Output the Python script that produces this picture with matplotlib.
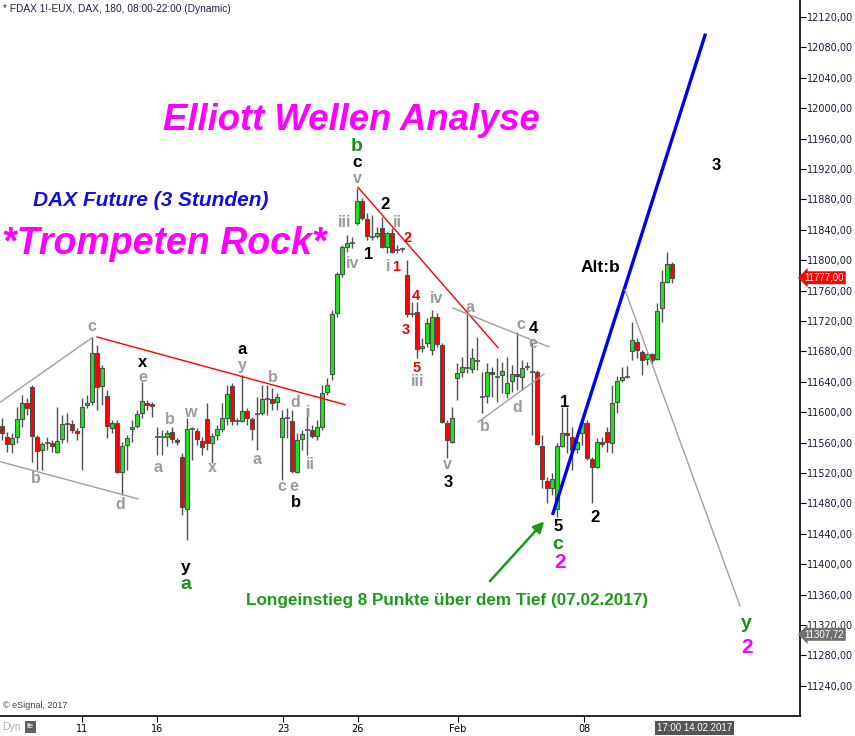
import numpy as np
import matplotlib
matplotlib.use("Agg")
import matplotlib.pyplot as plt

# DAX future, 3h bars (OHLC)
opens = [11582, 11567, 11558, 11567, 11591, 11612, 11633, 11567, 11550, 11560,
         11560, 11548, 11565, 11585, 11585, 11575, 11581, 11609, 11613, 11678,
         11635, 11621, 11579, 11586, 11521, 11557, 11578, 11582, 11599, 11612,
         11611, 11567, 11567, 11567, 11574, 11563, 11541, 11473, 11578, 11575,
         11562, 11591, 11560, 11570, 11578, 11592, 11635, 11588, 11588, 11602,
         11591, 11598, 11599, 11617, 11617, 11613, 11567, 11592, 11588, 11521,
         11565, 11577, 11577, 11569, 11581, 11627, 11650, 11731, 11782, 11817,
         11823, 11849, 11878, 11854, 11831, 11832, 11842, 11817, 11836, 11813,
         11815, 11781, 11729, 11732, 11685, 11691, 11682, 11725, 11688, 11586,
         11561, 11645, 11653, 11658, 11657, 11667, 11620, 11621, 11653, 11646,
         11649, 11625, 11641, 11650, 11646, 11660, 11653, 11653, 11556, 11510,
         11500, 11473, 11556, 11573, 11567, 11552, 11573, 11586, 11538, 11528,
         11561, 11574, 11560, 11613, 11642, 11646, 11681, 11692, 11679, 11670,
         11677, 11670, 11737, 11771, 11795]
highs = [11592, 11574, 11573, 11607, 11623, 11619, 11636, 11570, 11561, 11567,
         11563, 11607, 11596, 11599, 11590, 11579, 11619, 11623, 11699, 11688,
         11662, 11629, 11590, 11590, 11561, 11570, 11590, 11603, 11640, 11616,
         11613, 11581, 11577, 11577, 11581, 11566, 11546, 11592, 11581, 11579,
         11567, 11612, 11573, 11583, 11612, 11636, 11638, 11592, 11649, 11606,
         11594, 11620, 11636, 11636, 11632, 11625, 11603, 11606, 11603, 11573,
         11577, 11606, 11583, 11590, 11636, 11645, 11734, 11785, 11820, 11833,
         11831, 11895, 11882, 11862, 11859, 11844, 11857, 11837, 11842, 11820,
         11817, 11800, 11745, 11745, 11698, 11724, 11734, 11731, 11691, 11590,
         11607, 11665, 11673, 11731, 11685, 11699, 11653, 11665, 11660, 11671,
         11666, 11673, 11662, 11706, 11669, 11666, 11691, 11656, 11570, 11515,
         11520, 11560, 11607, 11607, 11581, 11567, 11592, 11590, 11541, 11566,
         11567, 11581, 11636, 11648, 11660, 11661, 11719, 11698, 11682, 11678,
         11678, 11744, 11787, 11811, 11798]
lows = [11563, 11548, 11546, 11560, 11581, 11596, 11535, 11524, 11524, 11550,
        11548, 11546, 11560, 11561, 11573, 11563, 11524, 11606, 11609, 11603,
        11609, 11566, 11573, 11520, 11491, 11524, 11561, 11579, 11592, 11603,
        11594, 11544, 11544, 11556, 11560, 11557, 11465, 11432, 11537, 11557,
        11544, 11550, 11533, 11563, 11574, 11583, 11583, 11583, 11587, 11583,
        11563, 11550, 11596, 11596, 11603, 11603, 11511, 11566, 11520, 11520,
        11550, 11544, 11566, 11563, 11577, 11623, 11642, 11725, 11778, 11811,
        11816, 11846, 11853, 11827, 11827, 11829, 11816, 11810, 11810, 11810,
        11811, 11725, 11725, 11671, 11679, 11686, 11675, 11686, 11586, 11540,
        11560, 11616, 11646, 11652, 11652, 11656, 11599, 11612, 11620, 11613,
        11625, 11619, 11627, 11629, 11629, 11656, 11570, 11557, 11500, 11481,
        11491, 11462, 11554, 11546, 11524, 11546, 11557, 11537, 11481, 11527,
        11554, 11548, 11546, 11599, 11640, 11645, 11669, 11671, 11649, 11662,
        11665, 11669, 11719, 11770, 11770]
closes = [11573, 11558, 11566, 11591, 11612, 11606, 11569, 11549, 11558, 11560,
          11556, 11562, 11585, 11585, 11577, 11573, 11607, 11612, 11678, 11633,
          11658, 11582, 11586, 11521, 11556, 11566, 11581, 11598, 11615, 11609,
          11608, 11567, 11567, 11573, 11565, 11561, 11475, 11578, 11578, 11565,
          11554, 11560, 11569, 11578, 11592, 11624, 11588, 11588, 11602, 11592,
          11578, 11598, 11617, 11617, 11612, 11620, 11592, 11592, 11523, 11563,
          11571, 11577, 11569, 11581, 11625, 11636, 11729, 11782, 11817, 11823,
          11823, 11878, 11856, 11832, 11831, 11836, 11817, 11836, 11811, 11813,
          11815, 11729, 11729, 11683, 11687, 11717, 11725, 11690, 11587, 11563,
          11592, 11652, 11660, 11658, 11671, 11667, 11620, 11653, 11650, 11646,
          11654, 11638, 11650, 11648, 11658, 11660, 11653, 11558, 11512, 11500,
          11512, 11556, 11573, 11570, 11550, 11561, 11586, 11540, 11528, 11561,
          11558, 11561, 11612, 11641, 11646, 11646, 11695, 11682, 11669, 11677,
          11669, 11733, 11771, 11795, 11777]

day_ticks = [16, 31, 56.2, 71.1, 91.2, 116.4]
day_labels = ["11", "16", "23", "26", "Feb", "08"]
price_ticks = np.arange(11240, 12121, 40)
last_price = 11777.00
target_price = 11307.72

# Elliott wave counts: (text, bar, price)
black_waves = [("x", 28.2, 11665), ("a", 48, 11682), ("b", 58.8, 11481),
               ("2", 76.6, 11873), ("1", 73.4, 11807), ("3", 89.2, 11508),
               ("4", 106.2, 11710), ("1", 112.6, 11613), ("2", 118.6, 11462),
               ("5", 111.2, 11449), ("3", 142.8, 11925)]
big_black = [("c", 71, 11929), ("y", 36.8, 11396)]
green_waves = [("b", 71, 11950), ("a", 36.8, 11373), ("c", 111.2, 11426),
               ("y", 148.8, 11322)]
magenta_waves = [("2", 111.6, 11402), ("2", 149, 11291)]
gray_waves = [("c", 18, 11713), ("e", 28.2, 11646), ("b", 6.8, 11513),
              ("d", 23.6, 11478), ("a", 31.2, 11527), ("b", 33.6, 11590),
              ("w", 37.6, 11600), ("x", 42, 11527), ("y", 48, 11662),
              ("a", 51, 11538), ("b", 54.2, 11646), ("d", 58.6, 11613),
              ("c", 56, 11502), ("e", 58.4, 11502), ("i", 61.2, 11599),
              ("ii", 61.6, 11531), ("iii", 68.6, 11849), ("iv", 70.2, 11796),
              ("v", 71, 11908), ("ii", 79, 11849), ("i", 77.2, 11792),
              ("iv", 87, 11750), ("iii", 83.2, 11640), ("v", 89, 11531),
              ("a", 93.6, 11738), ("c", 103.8, 11715), ("e", 106.2, 11691),
              ("b", 96.6, 11581), ("d", 103, 11606)]
red_waves = [("2", 81.2, 11829), ("1", 78.8, 11791), ("4", 82.8, 11753),
             ("3", 80.8, 11708), ("5", 83, 11658)]

# trend lines: ((bar, price), (bar, price), colour, width)
trend_lines = [((-0.4, 11613), (18, 11698), "#a0a0a0", 1.0),
               ((-0.4, 11535), (27.2, 11486), "#a0a0a0", 1.0),
               ((19, 11699), (68.6, 11610), "#ff0000", 1.0),
               ((71.2, 11896), (99.2, 11685), "#ff0000", 1.0),
               ((90.2, 11737), (109.4, 11686), "#a0a0a0", 1.0),
               ((95.2, 11587), (108.4, 11650), "#a0a0a0", 1.0),
               ((110.2, 11467), (140.6, 12096), "#0000ee", 2.4),
               ((124.6, 11761), (147.6, 11345), "#a0a0a0", 1.0)]

W, H = 855, 736
fig = plt.figure(figsize=(W / 100, H / 100), dpi=100)
ax = fig.add_axes([0, 20 / H, 800 / W, 716 / H])
plt.rcParams['font.family'] = ['Liberation Sans', 'DejaVu Sans']

up_col, dn_col, edge = "#1ee61e", "#ff0000", "#505050"
idx = np.arange(len(opens))
o = np.array(opens); c = np.array(closes)
ax.vlines(idx, lows, highs, color=edge, lw=1, zorder=2)
for i in idx:
    if o[i] == c[i]:
        ax.hlines(o[i], i - 0.5, i + 0.5, color=edge, lw=1.2, zorder=3)
    else:
        col = up_col if c[i] > o[i] else dn_col
        ax.bar(i, abs(c[i] - o[i]), bottom=min(o[i], c[i]), width=0.85,
               color=col, edgecolor=edge, linewidth=0.8, zorder=3)

for p1, p2, col, lw in trend_lines:
    ax.plot([p1[0], p2[0]], [p1[1], p2[1]], color=col, lw=lw, zorder=4)

ax.annotate("", xy=(108.8, 11459), xytext=(97.2, 11375),
            arrowprops=dict(arrowstyle="-|>", color="#1a9a1a", lw=1.8,
                            mutation_scale=16), zorder=5)

def put(lst, col, size):
    for t, x, y in lst:
        ax.text(x, y, t, color=col, fontsize=size, fontweight="bold",
                ha="center", va="center", zorder=6)

put(black_waves, "black", 12)
put(big_black, "black", 12.5)
put(green_waves, "#1a8f1a", 14)
put(magenta_waves, "#ff00ff", 15)
put(gray_waves, "#9a9a9a", 11.5)
put(red_waves, "#ee0000", 10.5)
ax.text(119.6, 11790, "Alt:b", color="black", fontsize=12.5,
        fontweight="bold", ha="center", va="center")

def ftext(x, y, s, **kw):
    fig.text(x / W, 1 - y / H, s, **kw)

ftext(351, 120, "Elliott Wellen Analyse", color="#ff00ff", fontsize=26.3,
      fontweight="bold", fontstyle="italic", ha="center", va="center")
ftext(151, 201, "DAX Future (3 Stunden)", color="#1010dd", fontsize=15,
      fontweight="bold", fontstyle="italic", ha="center", va="center")
ftext(164, 244, "*Trompeten Rock*", color="#ff00ff", fontsize=27,
      fontweight="bold", fontstyle="italic", ha="center", va="center")
ftext(447, 600, "Longeinstieg 8 Punkte über dem Tief (07.02.2017)",
      color="#1e9a1e", fontsize=12.3, fontweight="bold", ha="center", va="center")
ftext(3, 9, "* FDAX 1!-EUX, DAX, 180, 08:00-22:00 (Dynamic)", color="#202040",
      fontsize=7.3, ha="left", va="center")
ftext(3, 706, "© eSignal, 2017", color="#404040", fontsize=6.5,
      ha="left", va="center")
ftext(2, 727, "Dyn", color="#b0b0b0", fontsize=7.5, ha="left", va="center")
ftext(27, 727, "fe", color="white", fontsize=6, ha="left", va="center",
      bbox=dict(boxstyle="square,pad=0.25", fc="#606060", ec="none"))

ax.set_xlim(-0.4, 159.6)
ax.set_ylim(11200.3, 12142.4)
for s in ["top", "left"]:
    ax.spines[s].set_visible(False)
for s in ["right", "bottom"]:
    ax.spines[s].set_color("black")
    ax.spines[s].set_linewidth(1.2)
ax.yaxis.tick_right()
ax.set_yticks(price_ticks)
ax.set_yticklabels([f"{v:.2f}".replace(".", ",") for v in price_ticks])
ax.tick_params(axis="y", direction="out", length=4, labelsize=7,
               labelcolor="#1a1a40", pad=1)
ax.set_xticks(day_ticks)
ax.set_xticklabels(day_labels)
ax.tick_params(axis="x", direction="out", length=4, labelsize=7, pad=2)

ytr = ax.get_yaxis_transform()
ax.text(1.006, last_price, f"{last_price:.2f}".replace(".", ","), transform=ytr,
        color="white", fontsize=7, ha="left", va="center", clip_on=False,
        bbox=dict(boxstyle="larrow,pad=0.15", fc="#ff0000", ec="none"))
ax.text(1.006, target_price, f"{target_price:.2f}".replace(".", ","),
        transform=ytr, color="white", fontsize=7, ha="left", va="center",
        clip_on=False,
        bbox=dict(boxstyle="larrow,pad=0.15", fc="#707070", ec="none"))
xtr = ax.get_xaxis_transform()
ax.text(130.9, -0.017, "17:00 14.02.2017", transform=xtr, color="white",
        fontsize=7, ha="left", va="center", clip_on=False,
        bbox=dict(boxstyle="square,pad=0.2", fc="#555555", ec="none"))

fig.savefig("out.png", dpi=100)
